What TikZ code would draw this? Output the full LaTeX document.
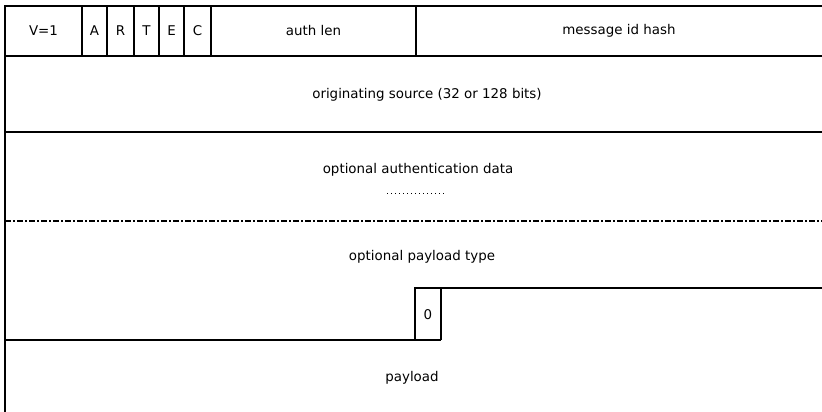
\documentclass[tikz,border=0pt]{standalone}
\usepackage{fontspec}
\setmainfont{DejaVu Sans}
\begin{document}
\begin{tikzpicture}[x=1pt,y=-1pt,
  rule/.style={line width=2.4pt,line cap=rect},
  thinrule/.style={line width=1.6pt},
  field/.style={inner sep=0pt,font=\fontsize{13.4pt}{15pt}\selectfont}]
\useasboundingbox (0,0) rectangle (822,412);
% outer frame: top edge and left edge
\draw[rule] (5,6) -- (822,6);
\draw[rule] (5,6) -- (5,412);
% first row: version, flags, auth len, message id hash
\draw[rule] (5,56) -- (822,56);
\draw[rule] (82,6) -- (82,56);
\draw[thinrule] (107,6) -- (107,56);
\draw[thinrule] (134,6) -- (134,56);
\draw[thinrule] (159,6) -- (159,56);
\draw[thinrule] (184,6) -- (184,56);
\draw[rule] (211,6) -- (211,56);
\draw[rule] (416,6) -- (416,56);
\node[field] (ver)  at (43.5,31) {V=1};
\node[field] (fa)   at (94.5,31) {A};
\node[field] (fr)   at (120.5,31) {R};
\node[field] (ft)   at (146.5,31) {T};
\node[field] (fe)   at (171.5,31) {E};
\node[field] (fc)   at (197.5,31) {C};
\node[field] (alen) at (313.5,31) {auth len};
\node[field] (hash) at (619,31) {message id hash};
% originating source
\draw[rule] (5,132) -- (822,132);
\node[field] (src) at (427,95) {originating source (32 or 128 bits)};
% optional authentication data, variable length
\node[field] (auth) at (418,170) {optional authentication data};
\coordinate (dl) at (387,193);
\coordinate (dr) at (447,193);
\draw[line width=1pt,dash pattern=on 1pt off 3pt] (dl) -- (dr);
\draw[line width=2.6pt,dash pattern=on 6pt off 2pt on 2pt off 2pt] (5,221) -- (822,221);
% optional payload type and terminating zero byte
\node[field] (ptype) at (422,257) {optional payload type};
\draw[thinrule] (5,340) -- (441,340);
\draw[rule] (415,340) -- (415,288) -- (822,288);
\draw[thinrule] (441,288) -- (441,340);
\node[field] (zero) at (428,315) {0};
% payload
\node[field] (pl) at (412,378) {payload};
\end{tikzpicture}
\end{document}
